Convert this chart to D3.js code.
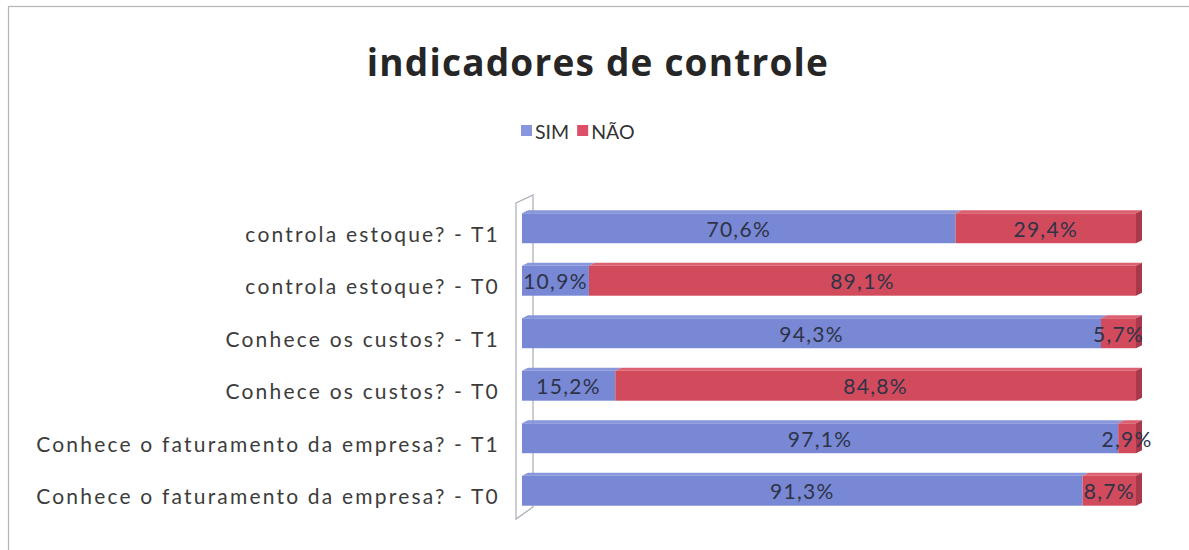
<!DOCTYPE html>
<html><head><meta charset="utf-8">
<script src="https://cdn.jsdelivr.net/npm/d3@7"></script>
<style>body{margin:0;background:#fff}svg{display:block}</style>
</head><body>
<svg id="c" width="1189" height="550"></svg>
<script>
const categories = [
  "controla estoque? - T1",
  "controla estoque? - T0",
  "Conhece os custos? - T1",
  "Conhece os custos? - T0",
  "Conhece o faturamento da empresa? - T1",
  "Conhece o faturamento da empresa? - T0"
];
const seriesNames = ["SIM", "NÃO"];
const simValues = [70.6, 10.9, 94.3, 15.2, 97.1, 91.3];
const naoValues = [29.4, 89.1, 5.7, 84.8, 2.9, 8.7];
const title = "indicadores de controle";

const colors = {SIM: {front: "#7888d5", top: "#8896dc", side: "#5f6eb9"},
                "NÃO": {front: "#d24b5d", top: "#dc6170", side: "#a8384a"}};
const font = "Lato, 'Open Sans', sans-serif";

const svg = d3.select("#c");
// frame
svg.append("rect").attr("x", 8.5).attr("y", 6.5).attr("width", 1300).attr("height", 700)
  .attr("fill", "#fff").attr("stroke", "#b4b4b4").attr("stroke-width", 1.2);

svg.append("text").attr("x", 598).attr("y", 76).attr("text-anchor", "middle")
  .attr("font-family", "'Open Sans', sans-serif").attr("font-weight", "700").attr("font-size", 37)
  .attr("letter-spacing", 1.2).attr("fill", "#262626").text(title);

// legend
const leg = svg.append("g").attr("font-family", font).attr("font-size", 19.5).attr("fill", "#333");
let lx = 521;
seriesNames.forEach((s, i) => {
  leg.append("rect").attr("x", lx).attr("y", 125).attr("width", 11).attr("height", 11)
    .attr("fill", i === 0 ? "#8995dc" : "#dd4f68");
  const t = leg.append("text").attr("x", lx + 14).attr("y", 138.5).text(s);
  lx += 14 + t.node().getComputedTextLength() + 8;
});

const x = d3.scaleLinear().domain([0, 100]).range([522, 1136]);
const y = d3.scaleBand().domain(categories).range([202, 517]).paddingInner(0.43).paddingOuter(0.215);

// back wall
const wall = svg.append("g").attr("stroke", "#a8abb8").attr("fill", "none").attr("stroke-width", 1.2);
wall.append("path").attr("d", "M516,203 L533,195 L533,507 L516,519 Z");

// labels
svg.append("g").selectAll("text").data(categories).join("text")
  .attr("x", 500).attr("y", d => y(d) + y.bandwidth() / 2 + 8)
  .attr("text-anchor", "end").attr("dominant-baseline", "middle")
  .attr("font-family", font).attr("font-size", 21).attr("letter-spacing", 2.2).attr("fill", "#3c3c3c")
  .text(d => d);

const dx = 6, dy = 3;
const rows = categories.map((c, i) => ({c, segs: [
  {s: "SIM", x0: 0, x1: simValues[i], v: simValues[i]},
  {s: "NÃO", x0: simValues[i], x1: simValues[i] + naoValues[i], v: naoValues[i]}
]}));

const g = svg.append("g");
rows.forEach(r => {
  const y0 = y(r.c), h = y.bandwidth();
  r.segs.forEach((sg, j) => {
    const a = x(sg.x0), b = x(sg.x1), col = colors[sg.s];
    g.append("path").attr("d", `M${a},${y0} L${a+dx},${y0-dy} L${b+dx},${y0-dy} L${b},${y0} Z`).attr("fill", col.top);
    if (j === r.segs.length - 1) {
      g.append("path").attr("d", `M${b},${y0} L${b+dx},${y0-dy} L${b+dx},${y0+h-dy} L${b},${y0+h} Z`).attr("fill", col.side);
    }
    g.append("rect").attr("x", a).attr("y", y0).attr("width", b - a).attr("height", h).attr("fill", col.front);
  });
  r.segs.forEach(sg => {
    const a = x(sg.x0), b = x(sg.x1);
    g.append("text").attr("x", (a + b) / 2).attr("y", y0 + h / 2 + 3)
      .attr("text-anchor", "middle").attr("dominant-baseline", "middle")
      .attr("font-family", font).attr("font-size", 21).attr("letter-spacing", 1.3).attr("fill", "#2e3348")
      .text(d3.format(".1f")(sg.v).replace(".", ",") + "%");
  });
});
</script>
</body></html>
